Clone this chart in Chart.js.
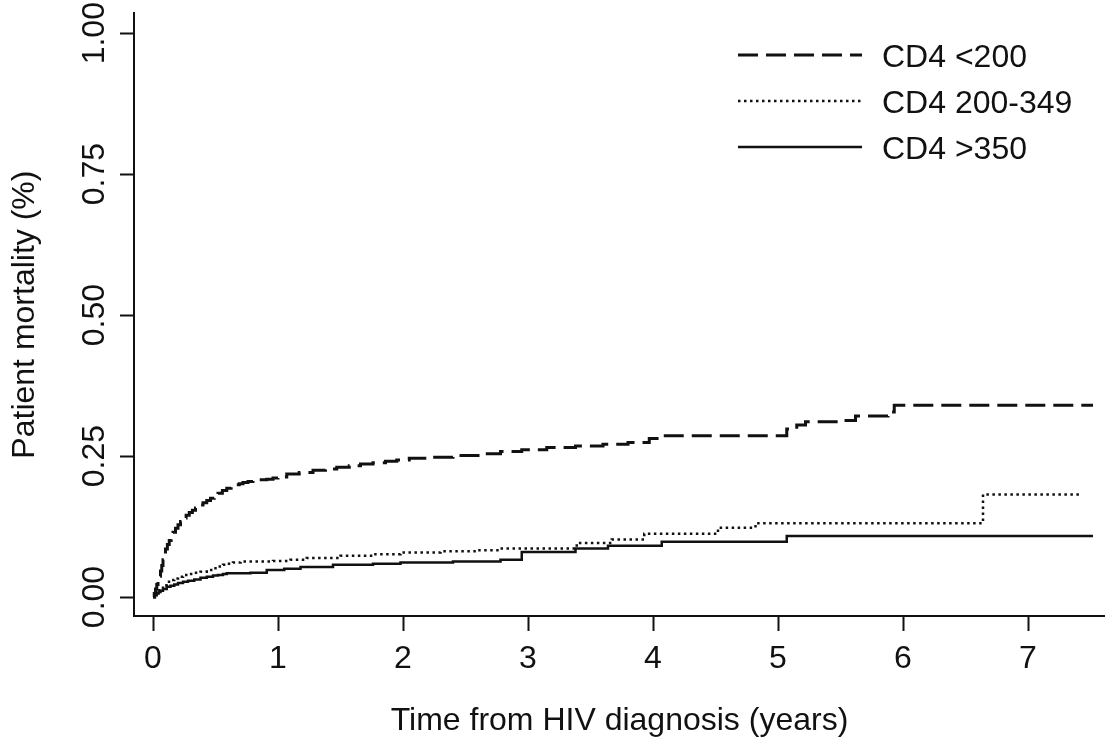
<!DOCTYPE html>
<html>
<head>
<meta charset="utf-8">
<title>Patient mortality by CD4 count</title>
<script src="https://cdn.jsdelivr.net/npm/chart.js@4.4.1/dist/chart.umd.min.js"></script>
<style>
  body { margin: 0; background: #fff; }
  .wrap { position: relative; width: 1105px; height: 744px; }
</style>
</head>
<body>
<div class="wrap"><canvas id="graph"></canvas></div>
<script>
const xTicks = [0, 1, 2, 3, 4, 5, 6, 7];
const yTicks = [0, 0.25, 0.5, 0.75, 1];
const seriesNames = ['CD4 <200', 'CD4 200-349', 'CD4 >350'];

// CD4 <200
const lowTimes = [0, 0.01, 0.02, 0.03, 0.04, 0.05, 0.06, 0.07, 0.08, 0.09, 0.10, 0.115, 0.13, 0.145, 0.16, 0.18, 0.20, 0.22, 0.24, 0.265, 0.29, 0.315, 0.34, 0.37, 0.40, 0.43, 0.46, 0.49, 0.52, 0.555, 0.59, 0.625, 0.66, 0.69, 0.72, 0.76, 0.80, 0.85, 0.91, 0.96, 1.00, 1.07, 1.17, 1.28, 1.38, 1.47, 1.57, 1.66, 1.76, 1.86, 1.95, 2.05, 2.20, 2.40, 2.60, 2.78, 2.95, 3.15, 3.38, 3.60, 3.80, 3.97, 4.08, 5.07, 5.15, 5.22, 5.50, 5.62, 5.88, 5.93, 7.52];
const lowValues = [0, 0.006, 0.014, 0.022, 0.030, 0.037, 0.046, 0.056, 0.066, 0.076, 0.085, 0.093, 0.100, 0.108, 0.115, 0.122, 0.128, 0.134, 0.140, 0.145, 0.150, 0.154, 0.158, 0.163, 0.167, 0.171, 0.175, 0.180, 0.184, 0.189, 0.193, 0.196, 0.199, 0.201, 0.203, 0.205, 0.206, 0.208, 0.209, 0.211, 0.213, 0.218, 0.221, 0.225, 0.227, 0.230, 0.233, 0.236, 0.238, 0.241, 0.243, 0.246, 0.248, 0.251, 0.254, 0.258, 0.261, 0.265, 0.268, 0.271, 0.274, 0.281, 0.286, 0.298, 0.305, 0.311, 0.313, 0.321, 0.328, 0.340, 0.340];

// CD4 200-349
const midTimes = [0, 0.015, 0.03, 0.045, 0.06, 0.08, 0.11, 0.14, 0.17, 0.20, 0.24, 0.28, 0.33, 0.38, 0.43, 0.48, 0.52, 0.56, 0.59, 0.64, 0.70, 0.96, 1.10, 1.23, 1.50, 1.76, 1.98, 2.30, 2.60, 2.78, 3.39, 3.67, 3.93, 4.52, 4.82, 6.64, 7.41];
const midValues = [0, 0.004, 0.008, 0.012, 0.016, 0.021, 0.027, 0.030, 0.033, 0.036, 0.039, 0.041, 0.043, 0.045, 0.048, 0.051, 0.054, 0.057, 0.059, 0.061, 0.063, 0.064, 0.066, 0.069, 0.073, 0.076, 0.079, 0.081, 0.083, 0.086, 0.096, 0.102, 0.112, 0.123, 0.131, 0.182, 0.182];

// CD4 >350
const highTimes = [0, 0.015, 0.03, 0.045, 0.06, 0.08, 0.11, 0.14, 0.17, 0.20, 0.24, 0.28, 0.33, 0.38, 0.43, 0.48, 0.52, 0.56, 0.59, 0.78, 0.91, 1.05, 1.18, 1.44, 1.76, 1.98, 2.40, 2.78, 2.95, 3.38, 3.64, 4.07, 5.07, 7.52];
const highValues = [0, 0.003, 0.006, 0.009, 0.011, 0.014, 0.018, 0.020, 0.022, 0.025, 0.027, 0.029, 0.031, 0.034, 0.036, 0.038, 0.039, 0.041, 0.042, 0.043, 0.048, 0.050, 0.053, 0.057, 0.059, 0.061, 0.063, 0.066, 0.080, 0.086, 0.091, 0.098, 0.108, 0.108];

const toPoints = (times, values) => times.map((t, i) => ({ x: t, y: values[i] }));

Chart.defaults.font.family = '"Liberation Sans", Arial, sans-serif';
Chart.defaults.font.size = 32;
Chart.defaults.color = '#111';

const lineLegend = {
    id: 'lineLegend',
    afterDraw(chart) {
        const c = chart.ctx;
        c.save();
        chart.data.datasets.forEach((ds, i) => {
            const y = 55 + i * 46;
            c.beginPath();
            c.setLineDash(ds.borderDash || []);
            c.lineWidth = ds.borderWidth;
            c.strokeStyle = ds.borderColor;
            c.moveTo(738, y);
            c.lineTo(862, y);
            c.stroke();
            c.setLineDash([]);
            c.fillStyle = '#111';
            c.font = '32px "Liberation Sans", Arial, sans-serif';
            c.textBaseline = 'alphabetic';
            c.fillText(ds.label, 882, y + 12);
        });
        c.restore();
    }
};

var ctx = document.getElementById('graph').getContext('2d');
var myChart = new Chart(ctx, {
    type: 'line',
    data: {
        datasets: [{
            label: seriesNames[0],
            data: toPoints(lowTimes, lowValues),
            borderColor: '#111',
            borderWidth: 3,
            borderDash: [20, 8],
            stepped: true,
            fill: false
        }, {
            label: seriesNames[1],
            data: toPoints(midTimes, midValues),
            borderColor: '#111',
            borderWidth: 2.5,
            borderDash: [2.5, 3.5],
            stepped: true,
            fill: false
        }, {
            label: seriesNames[2],
            data: toPoints(highTimes, highValues),
            borderColor: '#111',
            borderWidth: 2.5,
            stepped: true,
            fill: false
        }]
    },
    options: {
        responsive: true,
        maintainAspectRatio: false,
        animation: false,
        layout: { padding: { top: 13, left: 0, right: 0, bottom: 0 } },
        elements: { point: { radius: 0 } },
        plugins: {
            legend: { display: false },
            tooltip: { enabled: false }
        },
        scales: {
            x: {
                type: 'linear',
                min: -0.152,
                max: 7.616,
                afterBuildTicks: s => { s.ticks = xTicks.map(v => ({ value: v })); },
                afterFit: s => { s.height = 128; },
                grid: { drawOnChartArea: false, tickLength: 15, tickWidth: 2, tickColor: '#111' },
                border: { color: '#111', width: 2 },
                ticks: { padding: 9, maxRotation: 0, autoSkip: false },
                title: {
                    display: true,
                    text: 'Time from HIV diagnosis (years)',
                    padding: { top: 0, bottom: 4 }
                }
            },
            y: {
                type: 'linear',
                min: -0.0337,
                max: 1.0355,
                afterBuildTicks: s => { s.ticks = yTicks.map(v => ({ value: v })); },
                afterFit: s => { s.width = 134; },
                grid: { drawOnChartArea: false, tickLength: 14, tickWidth: 2, tickColor: '#111' },
                border: { color: '#111', width: 2 },
                ticks: {
                    padding: -6,
                    minRotation: 90,
                    maxRotation: 90,
                    crossAlign: 'center',
                    autoSkip: false,
                    callback: v => v.toFixed(2)
                },
                title: {
                    display: true,
                    text: 'Patient mortality (%)',
                    padding: { top: 6, bottom: 0 }
                }
            }
        }
    },
    plugins: [lineLegend]
});
</script>
</body>
</html>
